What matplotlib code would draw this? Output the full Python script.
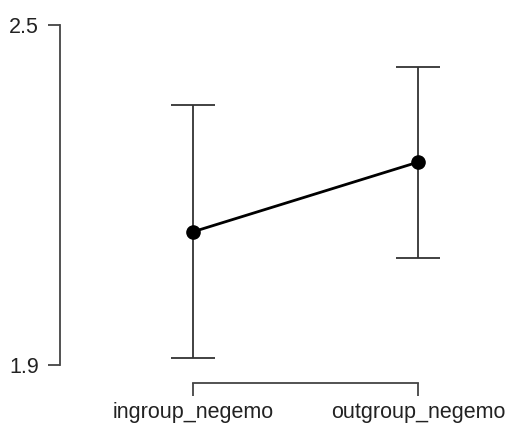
import numpy as np
import matplotlib.pyplot as plt

# Data
conditions = ["ingroup_negemo", "outgroup_negemo"]
means = [2.135, 2.258]
ci_lower = [1.912, 2.089]
ci_upper = [2.359, 2.426]

plt.rcParams['font.family'] = ['Liberation Sans', 'DejaVu Sans']

fig = plt.figure(figsize=(5.07, 4.24), dpi=100)
ax = fig.add_axes([60/507, 1 - 383/424, (490 - 60)/507, (383 - 20)/424])

x = np.arange(len(conditions))
m = np.array(means)
err = [m - np.array(ci_lower), np.array(ci_upper) - m]

ax.errorbar(x, m, yerr=err, fmt='none', ecolor='#333333', elinewidth=1.3,
            capsize=16, capthick=1.3, zorder=2)
ax.plot(x, m, color='black', linewidth=2, zorder=3)
ax.plot(x, m, 'o', color='black', markersize=9.5, zorder=4)

ax.set_xlim(-0.591, 1.32)
ax.set_ylim(1.868, 2.509)

ax.set_xticks(x)
ax.set_xticklabels(conditions)
ax.set_yticks([1.9, 2.5])
ax.set_yticklabels(["1.9", "2.5"])

for s in ['top', 'right']:
    ax.spines[s].set_visible(False)
ax.spines['left'].set_bounds(1.9, 2.5)
ax.spines['bottom'].set_bounds(0, 1)
for s in ['left', 'bottom']:
    ax.spines[s].set_linewidth(1.3)
    ax.spines[s].set_color('#444444')

ax.tick_params(axis='both', length=9, width=1.3, color='#444444',
               labelsize=15.5, labelcolor='#222222')
ax.tick_params(axis='y', pad=6)
ax.tick_params(axis='x', pad=5)

fig.savefig("out.png", dpi=100)
